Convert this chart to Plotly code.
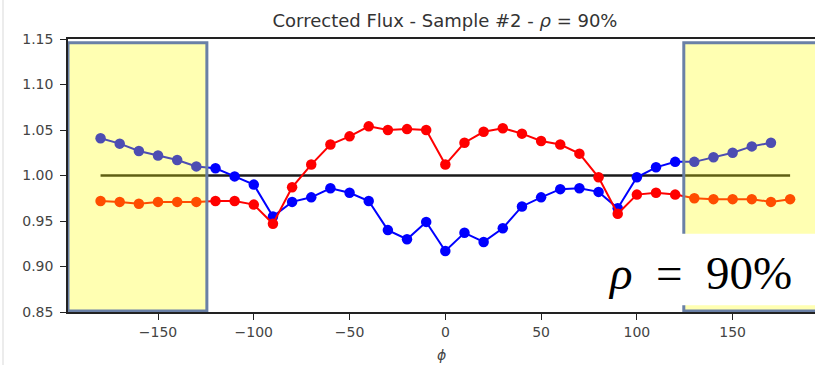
import plotly.graph_objects as go

# Azimuth angles (degrees)
phi_red = list(range(-180, 181, 10))
phi_blue = list(range(-180, 171, 10))

# Corrected flux, sample #2
flux_red = [0.972, 0.971, 0.969, 0.971, 0.971, 0.971, 0.972, 0.972, 0.968, 0.947,
            0.987, 1.012, 1.034, 1.043, 1.054, 1.050, 1.051, 1.050, 1.012, 1.036,
            1.048, 1.052, 1.046, 1.038, 1.034, 1.024, 0.998, 0.958, 0.979, 0.981,
            0.979, 0.975, 0.974, 0.974, 0.974, 0.971, 0.974]
flux_blue = [1.041, 1.035, 1.027, 1.022, 1.017, 1.010, 1.008, 0.999, 0.990, 0.955,
             0.971, 0.976, 0.986, 0.981, 0.972, 0.940, 0.930, 0.949, 0.917, 0.937,
             0.927, 0.942, 0.966, 0.976, 0.985, 0.986, 0.982, 0.964, 0.998, 1.009,
             1.015, 1.015, 1.020, 1.025, 1.032, 1.036]
ref_phi = [-180, 180]
ref_flux = [1.0, 1.0]

x_ticks = [-150, -100, -50, 0, 50, 100, 150]
y_ticks = [0.85, 0.90, 0.95, 1.00, 1.05, 1.10, 1.15]

title_text = "Corrected Flux - Sample #2 - <i>ρ</i> = 90%"
box_text = "<i>ρ</i>\u2002=\u200290%"

fig = go.Figure()
fig.add_trace(go.Scatter(x=ref_phi, y=ref_flux, mode="lines",
                         line=dict(color="#1a1a1a", width=2.4), showlegend=False))
fig.add_trace(go.Scatter(x=phi_blue, y=flux_blue, mode="lines+markers",
                         line=dict(color="#0000ff", width=2),
                         marker=dict(color="#0000ff", size=10.5), showlegend=False))
fig.add_trace(go.Scatter(x=phi_red, y=flux_red, mode="lines+markers",
                         line=dict(color="#ff0000", width=2),
                         marker=dict(color="#ff0000", size=10.5), showlegend=False))

highlight = dict(type="rect", xref="x", yref="y", layer="above",
                 fillcolor="rgba(255,255,0,0.3)",
                 line=dict(color="#6a80a6", width=3))
fig.add_shape(**highlight, x0=-197, x1=-124.5, y0=0.851, y1=1.146)
fig.add_shape(**highlight, x0=124.5, x1=215, y0=0.851, y1=1.146)
# white label box
fig.add_shape(type="rect", xref="x", yref="y", layer="above",
              x0=85, x1=215, y0=0.8575, y1=0.936,
              fillcolor="white", line=dict(width=0))
# faint page edge
fig.add_shape(type="line", xref="paper", yref="paper", layer="above",
              x0=-0.087, x1=-0.087, y0=-0.2, y1=1.15,
              line=dict(color="#e6e6e6", width=1.5))

fig.add_annotation(x=(700 - 68) / 747, y=(312 - 273) / 273, xref="paper", yref="paper",
                   text=box_text, showarrow=False, xanchor="center", yanchor="middle",
                   font=dict(family="Liberation Serif", size=47, color="black"))

fig.update_layout(
    width=815, height=365,
    margin=dict(l=68, r=0, t=39, b=53),
    paper_bgcolor="white", plot_bgcolor="white",
    title=dict(text=title_text, x=445 / 815, xanchor="center",
               y=1 - 21 / 365, yanchor="middle",
               font=dict(family="DejaVu Sans", size=18, color="#333333")),
    xaxis=dict(range=[-197, 193], tickvals=x_ticks,
               ticktext=[str(v).replace("-", "\u2212") for v in x_ticks],
               showgrid=False, zeroline=False, showline=True, mirror=True,
               linecolor="#222222", linewidth=1.5, ticks="outside", ticklen=6,
               tickcolor="#222222", tickfont=dict(family="DejaVu Sans", size=14, color="#444444"),
               title=dict(text="<i>ϕ</i>", standoff=12,
                          font=dict(family="DejaVu Sans", size=14, color="#444444"))),
    yaxis=dict(range=[0.85, 1.15], tickvals=y_ticks,
               ticktext=[f"{v:.2f}" for v in y_ticks],
               showgrid=False, zeroline=False, showline=True, mirror=False,
               linecolor="#222222", linewidth=1.5, ticks="outside", ticklen=6,
               ticklabelstandoff=4,
               tickcolor="#222222", tickfont=dict(family="DejaVu Sans", size=14, color="#444444")),
)

fig.write_html("out.html")
